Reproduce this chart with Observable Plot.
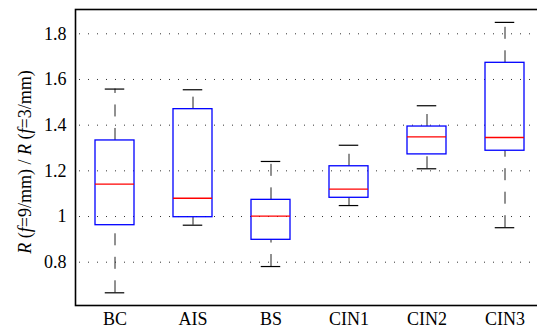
<!DOCTYPE html>
<html>
<head>
<meta charset="utf-8">
<script src="https://cdn.jsdelivr.net/npm/d3@7"></script>
<script src="https://cdn.jsdelivr.net/npm/@observablehq/plot@0.6"></script>
<style>
  html, body { margin: 0; padding: 0; background: #fff; overflow: hidden; }
  #chart svg { overflow: hidden; display: block; }
</style>
</head>
<body>
<div id="chart"></div>
<script>
const categories = ["BC", "AIS", "BS", "CIN1", "CIN2", "CIN3"];
const lowerWhisker = [0.666, 0.962, 0.781, 1.048, 1.209, 0.951];
const q1 = [0.962, 0.997, 0.898, 1.082, 1.272, 1.288];
const median = [1.142, 1.080, 1.002, 1.120, 1.349, 1.346];
const q3 = [1.333, 1.470, 1.073, 1.220, 1.394, 1.673];
const upperWhisker = [1.558, 1.555, 1.241, 1.312, 1.485, 1.850];
const yTicks = [0.8, 1, 1.2, 1.4, 1.6, 1.8];
const yTickLabels = ["0.8", "1", "1.2", "1.4", "1.6", "1.8"];

const rows = categories.map((c, i) => ({
  cat: c, lo: lowerWhisker[i], q1: q1[i], med: median[i], q3: q3[i], hi: upperWhisker[i]
}));

const font = "'Liberation Serif', 'Times New Roman', serif";

const plot = Plot.plot({
  width: 537,
  height: 331,
  marginLeft: 75,
  marginRight: -6,
  marginTop: 9,
  marginBottom: 26,
  style: { fontFamily: font, fontSize: "18px", color: "#000", background: "#fff" },
  x: { domain: categories, paddingInner: 0.5, paddingOuter: 0.25, label: null },
  y: { domain: [0.6104, 1.9064], label: null },
  marks: [
    Plot.ruleY(yTicks, { stroke: "#333", strokeWidth: 1, strokeDasharray: "1,8", strokeDashoffset: -4 }),
    Plot.ruleX(rows, { x: "cat", y1: "lo", y2: "q1", stroke: "#222", strokeWidth: 1, strokeDasharray: "12,11.5" }),
    Plot.ruleX(rows, { x: "cat", y1: "q3", y2: "hi", stroke: "#222", strokeWidth: 1, strokeDasharray: "12,11.5" }),
    Plot.tickY(rows, { x: "cat", y: "lo", stroke: "#000", strokeWidth: 1.2, insetLeft: 9.75, insetRight: 9.75 }),
    Plot.tickY(rows, { x: "cat", y: "hi", stroke: "#000", strokeWidth: 1.2, insetLeft: 9.75, insetRight: 9.75 }),
    Plot.barY(rows, { x: "cat", y1: "q1", y2: "q3", fill: "none", stroke: "#0000ff", strokeWidth: 1.3 }),
    Plot.tickY(rows, { x: "cat", y: "med", stroke: "#ff0000", strokeWidth: 1.3 }),
    Plot.axisY(yTicks, { tickSize: 0, tickPadding: 9, tickFormat: (d, i) => yTickLabels[yTicks.indexOf(d)], fontSize: 18 }),
    Plot.axisX({ tickSize: 0, tickPadding: 7, fontSize: 18 }),
    Plot.frame({ stroke: "#000", strokeWidth: 1.6 })
  ]
});

document.getElementById("chart").appendChild(plot);

// Y-axis title with italic symbols
const svg = d3.select(plot);
const t = svg.append("text")
  .attr("transform", "translate(31,162) rotate(-90)")
  .attr("text-anchor", "middle")
  .attr("font-family", font)
  .attr("font-size", 18)
  .attr("fill", "#000");
const parts = [["R", true], [" (", false], ["f", true], ["=9/mm) / ", false], ["R", true], [" (", false], ["f", true], ["=3/mm)", false]];
parts.forEach(([s, it]) => t.append("tspan").attr("font-style", it ? "italic" : "normal").text(s));
</script>
</body>
</html>
